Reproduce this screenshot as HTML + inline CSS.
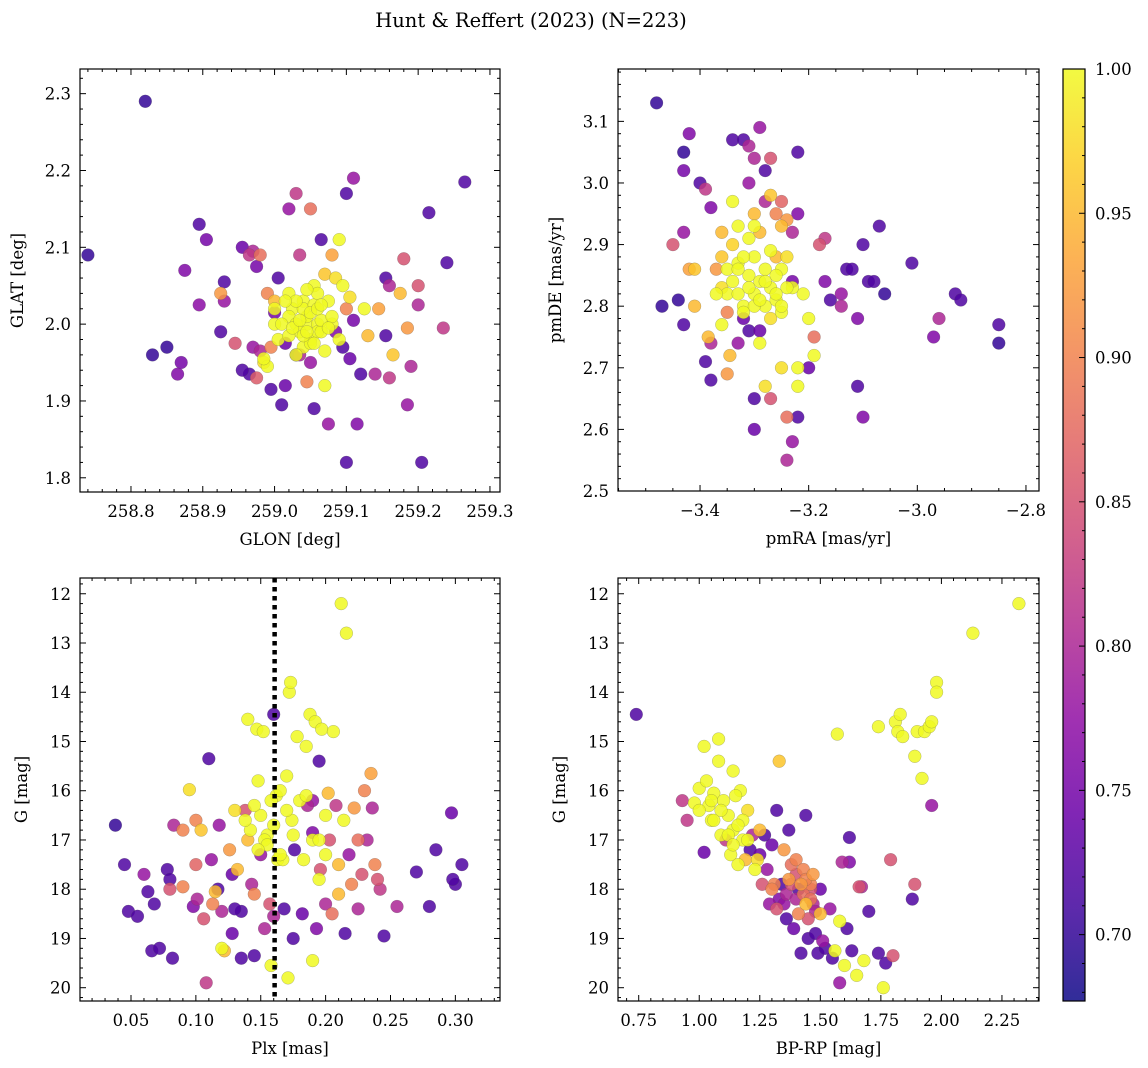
<!DOCTYPE html>
<html><head><meta charset="utf-8"><style>
html,body{margin:0;padding:0;background:#fff;}
svg{display:block;font-family:"DejaVu Serif","Liberation Serif",serif;}
</style></head><body>
<svg id="fig" width="1148" height="1068" viewBox="0 0 1148 1068" xmlns="http://www.w3.org/2000/svg">
<text x="531" y="27" font-size="19.5" text-anchor="middle">Hunt &amp; Reffert (2023) (N=223)</text>
</svg>
<script>
// ---------- DATA ----------
const p1glon=[258.74,258.82,258.83,258.85,258.87,258.865,258.875,258.895,258.905,258.895,258.925,258.93,258.93,258.925,258.945,258.955,258.965,258.97,258.975,258.98,258.965,258.955,258.975,258.98,258.985,258.99,258.995,258.99,259.0,259.005,258.995,259.0,259.005,259.01,259.015,259.02,259.02,259.025,259.03,259.035,259.04,259.045,259.05,259.05,259.055,259.06,259.06,259.035,259.04,259.045,259.05,259.055,259.065,259.07,259.08,259.085,259.09,259.095,259.1,259.105,259.075,259.08,259.085,259.065,259.07,259.075,259.1,259.11,259.11,259.115,259.1,259.095,259.105,259.125,259.13,259.14,259.145,259.155,259.16,259.16,259.165,259.175,259.18,259.185,259.19,259.185,259.155,259.2,259.2,259.205,259.215,259.24,259.235,259.265,259.12,259.03,259.045,259.015,258.97,259.0,259.02,259.03,259.035,259.04,259.055,259.06,259.065,259.045,259.03,259.05,259.02,259.07,259.08,259.09,259.01,259.025,259.04,259.05,259.06,259.035,259.045,259.055,259.065,259.015,259.03,259.075,259.0,258.985];
const p1glat=[2.09,2.29,1.96,1.97,1.95,1.935,2.07,2.13,2.11,2.025,2.04,2.055,2.03,1.99,1.975,2.1,2.09,2.095,2.075,2.09,1.935,1.94,1.93,1.965,1.95,1.945,1.915,2.04,2.03,2.06,1.97,2.0,1.98,1.895,1.92,2.15,2.04,2.02,2.17,2.09,2.03,2.0,2.15,1.98,2.05,2.0,1.99,1.96,1.97,2.01,1.95,1.89,2.11,2.065,2.09,2.06,2.11,2.05,2.02,2.035,2.03,2.0,1.99,1.99,1.92,1.87,2.17,2.19,2.005,1.87,1.82,1.97,1.955,2.02,1.985,1.935,2.02,2.06,2.05,1.93,1.96,2.04,2.085,1.995,1.945,1.895,1.985,2.05,2.025,1.82,2.145,2.08,1.995,2.185,1.935,1.96,1.925,1.975,1.97,2.015,2.01,2.0,1.99,2.02,2.025,2.04,2.005,2.045,2.03,1.975,1.985,1.965,2.01,1.98,2.0,1.995,1.985,2.015,2.02,2.005,1.99,1.975,2.025,2.03,1.96,1.995,2.02,1.955];
const p1prob=[.70,.70,.70,.70,.75,.76,.76,.72,.75,.77,.92,.72,.78,.72,.85,.74,.82,.80,.75,.88,.72,.72,.86,.80,.98,1,.72,.90,.95,.72,.90,1,1,.72,.74,.78,1,1,.82,.82,1,1,.88,1,1,1,1,.80,1,1,.78,.72,.72,.96,.93,.98,1,1,.90,.98,1,1,.76,1,1,.78,.72,.78,.75,.76,.72,.72,.74,1,.95,.80,.93,.72,.80,.82,.96,.95,.85,.92,.80,.78,.72,.85,.80,.72,.72,.72,.82,.72,.72,.72,.90,.74,.78,.75,1,1,1,1,1,1,1,1,1,1,1,1,1,1,1,1,1,1,1,1,1,1,1,1,1,1,1,1];

const p2pmra=[-3.48,-3.47,-3.43,-3.43,-3.42,-3.45,-3.43,-3.44,-3.43,-3.42,-3.41,-3.41,-3.40,-3.39,-3.38,-3.38,-3.385,-3.39,-3.38,-3.37,-3.36,-3.36,-3.35,-3.35,-3.36,-3.35,-3.345,-3.34,-3.34,-3.33,-3.33,-3.32,-3.31,-3.31,-3.30,-3.30,-3.30,-3.30,-3.30,-3.29,-3.28,-3.28,-3.27,-3.27,-3.26,-3.25,-3.25,-3.24,-3.23,-3.22,-3.22,-3.28,-3.27,-3.25,-3.24,-3.24,-3.23,-3.22,-3.22,-3.22,-3.20,-3.19,-3.19,-3.2,-3.21,-3.23,-3.23,-3.25,-3.26,-3.18,-3.17,-3.17,-3.16,-3.14,-3.13,-3.12,-3.11,-3.11,-3.10,-3.10,-3.09,-3.08,-3.07,-3.06,-3.01,-2.97,-2.96,-2.93,-2.92,-2.85,-2.85,-3.14,-3.32,-3.31,-3.29,-3.34,-3.33,-3.32,-3.31,-3.30,-3.30,-3.29,-3.28,-3.28,-3.27,-3.27,-3.26,-3.26,-3.25,-3.24,-3.24,-3.32,-3.34,-3.33,-3.31,-3.29,-3.3,-3.35,-3.36,-3.37,-3.29,-3.27,-3.25,-3.31,-3.29,-3.33,-3.28,-3.32,-3.26];
const p2pmde=[3.13,2.80,3.05,3.02,3.08,2.90,2.92,2.81,2.77,2.86,2.86,2.80,3.0,2.99,2.96,2.74,2.75,2.71,2.68,2.86,2.92,2.83,2.82,2.79,2.77,2.69,2.72,3.07,2.97,2.87,2.74,3.07,3.06,3.0,3.04,2.95,2.93,2.65,2.60,3.09,3.02,2.97,2.98,3.04,2.95,2.93,2.97,2.94,2.92,2.95,3.05,2.67,2.65,2.70,2.62,2.55,2.58,2.62,2.67,2.70,2.70,2.72,2.75,2.78,2.82,2.83,2.84,2.86,2.88,2.90,2.91,2.84,2.81,2.82,2.86,2.86,2.78,2.67,2.90,2.62,2.84,2.84,2.93,2.82,2.87,2.75,2.78,2.82,2.81,2.77,2.74,2.80,2.78,2.76,2.76,2.84,2.82,2.80,2.85,2.82,2.88,2.84,2.80,2.86,2.83,2.89,2.81,2.85,2.79,2.83,2.88,2.88,2.90,2.93,2.91,2.92,2.80,2.86,2.88,2.82,2.74,2.78,2.80,2.83,2.81,2.86,2.84,2.79,2.82];
const p2prob=[.70,.70,.70,.75,.76,.85,.78,.70,.72,.93,.96,.95,.72,.82,.76,.80,.95,.72,.72,.92,.95,.98,1,.90,1,.92,.95,.72,1,1,.78,.72,.80,.78,.80,.95,1,.72,.74,.78,.72,.80,.96,.85,.90,.95,.87,.92,.80,.76,.72,.98,.85,.98,.88,.80,.78,.72,1,1,.74,1,.88,1,1,1,.75,1,.95,.85,.82,.76,.72,.78,.72,.72,.76,.72,.72,.76,.72,.72,.72,.70,.72,.76,.80,.72,.72,.72,.70,.80,.74,.72,.74,1,1,1,1,1,1,1,1,1,1,1,1,1,1,1,.98,1,.97,1,1,.95,1,1,.96,1,1,.98,1,1,1,1,1,1,1];

const p3plx=[0.038,0.045,0.048,0.055,0.06,0.063,0.066,0.068,0.072,0.078,0.08,0.082,0.083,0.08,0.09,0.09,0.095,0.1,0.1,0.098,0.101,0.104,0.106,0.108,0.11,0.112,0.113,0.115,0.117,0.12,0.12,0.122,0.126,0.128,0.13,0.132,0.135,0.135,0.138,0.14,0.142,0.143,0.145,0.145,0.147,0.148,0.15,0.15,0.152,0.153,0.155,0.157,0.158,0.16,0.16,0.162,0.163,0.165,0.167,0.168,0.17,0.171,0.172,0.173,0.174,0.176,0.178,0.18,0.182,0.183,0.185,0.186,0.188,0.19,0.19,0.192,0.193,0.195,0.195,0.197,0.2,0.2,0.202,0.203,0.205,0.206,0.208,0.21,0.212,0.214,0.215,0.216,0.218,0.22,0.222,0.225,0.228,0.23,0.232,0.235,0.236,0.238,0.24,0.242,0.245,0.255,0.27,0.28,0.285,0.297,0.3,0.305,0.298,0.13,0.128,0.118,0.19,0.196,0.175,0.153,0.158,0.2,0.21,0.225,0.14,0.145,0.155,0.16,0.165,0.17,0.185,0.19,0.175,0.148,0.138,0.195];
const p3gmag=[16.7,17.5,18.45,18.55,17.7,18.05,19.25,18.3,19.2,17.6,17.8,19.4,16.7,18.0,16.8,17.95,15.98,16.6,17.5,18.35,18.2,16.8,18.6,19.9,15.35,17.4,18.3,18.05,18.0,18.45,19.2,19.25,17.2,18.9,16.4,17.6,18.45,19.4,16.4,14.55,16.8,17.9,18.1,19.35,14.75,15.8,16.5,17.3,14.8,18.8,16.9,18.3,19.55,14.45,18.55,16.1,17.4,16.0,17.4,18.4,15.7,19.8,14.0,13.8,16.6,17.2,14.9,16.2,18.5,17.4,15.1,16.3,14.45,16.85,19.45,14.6,18.8,15.4,17.8,14.75,17.3,18.3,16.05,17.0,18.5,14.8,16.3,17.5,12.2,16.6,18.9,12.8,17.3,17.9,16.35,18.4,17.7,16.0,17.0,15.65,16.35,17.5,17.8,18.0,18.95,18.35,17.65,18.35,17.2,16.45,17.9,17.5,17.8,18.4,17.7,16.7,16.2,17.6,19.0,17.0,16.2,16.5,18.1,17.0,17.0,16.3,17.1,16.7,17.3,16.4,16.1,17.0,16.9,17.2,16.6,17.0];
const p3prob=[.70,.72,.72,.72,.78,.72,.72,.72,.72,.72,.72,.72,.80,.85,.90,.90,.98,.90,.87,.76,.80,.96,.85,.82,.72,.78,.90,.95,.72,.80,1,.95,.92,.74,.98,.95,.72,.72,.85,1,1,.80,.90,.72,1,1,1,.78,1,.80,1,.85,1,.72,.80,1,1,1,1,.72,1,1,1,1,1,.72,1,1,.74,1,1,.80,1,.76,1,1,.76,.72,1,1,1,.80,.95,.85,.88,1,.82,.95,1,1,.72,1,.78,.90,.92,.80,.85,.90,.80,.93,.80,.90,.85,.82,.72,.80,.72,.72,.72,.74,.72,.72,.72,.72,.74,.78,.78,.85,.72,1,1,1,.95,.88,.95,1,1,1,1,1,1,1,1,1,1,1];
const plxRef=[0.1607];

const p4bprp=[0.74,0.93,0.95,0.98,1.0,1.02,1.02,1.04,1.05,1.06,1.08,1.08,1.09,1.1,1.11,1.12,1.13,1.14,1.14,1.16,1.17,1.18,1.19,1.2,1.21,1.22,1.23,1.25,1.26,1.27,1.28,1.29,1.3,1.31,1.32,1.32,1.33,1.34,1.35,1.36,1.36,1.37,1.38,1.39,1.4,1.41,1.42,1.42,1.43,1.44,1.45,1.45,1.46,1.47,1.48,1.49,1.5,1.5,1.51,1.52,1.54,1.55,1.56,1.57,1.58,1.58,1.59,1.6,1.61,1.62,1.62,1.63,1.65,1.66,1.67,1.68,1.7,1.74,1.74,1.76,1.77,1.79,1.8,1.81,1.82,1.83,1.84,1.88,1.89,1.89,1.9,1.92,1.93,1.95,1.96,1.96,1.98,1.98,2.13,2.32,1.38,1.4,1.43,1.44,1.46,1.47,1.48,1.41,1.35,1.3,1.33,1.12,1.06,1.15,1.18,1.25,1.0,1.03,1.09,1.16,1.2,1.24,1.14,1.05,1.44,1.46,1.4,1.37];
const p4gmag=[14.45,16.2,16.6,16.25,15.95,15.1,17.25,16.3,16.6,16.05,14.95,15.4,16.9,16.2,17.0,16.5,17.3,15.6,16.8,17.5,16.0,17.0,17.4,16.4,17.2,16.9,17.6,17.3,17.9,16.9,17.6,18.3,17.1,17.9,16.4,18.4,15.4,17.9,17.2,18.1,18.6,16.8,17.9,18.8,17.4,18.5,19.3,17.9,18.1,16.5,18.6,19.0,17.9,18.3,18.9,19.3,18.0,18.5,19.05,19.2,18.4,19.4,19.25,14.85,18.65,19.9,17.45,19.55,18.8,16.95,17.45,19.25,19.75,17.95,17.95,19.45,18.45,14.7,19.3,20.0,19.5,17.4,19.35,14.6,14.8,14.45,14.9,18.2,15.3,17.9,14.8,15.75,14.8,14.7,14.6,16.3,13.8,14.0,12.8,12.2,17.5,17.7,17.6,18.3,18.2,17.7,18.45,18.0,18.3,18.0,18.2,16.9,16.6,16.1,16.6,16.8,16.4,15.8,16.4,16.7,17.0,17.4,17.1,16.2,17.8,18.0,18.2,17.8];
const p4prob=[.72,.82,.82,1,1,1,.74,1,1,1,1,1,1,1,.82,1,1,1,1,1,1,1,.95,.98,.72,.80,1,.74,.85,.72,.78,.78,.74,.90,.72,.85,.96,.72,.92,.80,.72,.72,.85,.74,.90,.90,.72,.92,.88,.72,.85,.72,.90,.80,.72,.72,.74,.95,.78,.72,.78,.72,1,1,1,.78,.80,1,.72,.72,.76,.72,1,.85,.80,1,.72,1,.72,1,.72,.85,.85,1,1,1,1,.72,1,.85,1,1,1,1,1,.78,1,1,1,1,.88,.85,.90,.95,.88,.92,.80,.72,.78,.90,.76,1,1,1,1,.95,1,1,1,1,1,.98,1,1,.90,.85,.80,.92];

const cbTicks=[0.70,0.75,0.80,0.85,0.90,0.95,1.00];
const vmin=0.677, vmax=1.0;

// ---------- COLORMAP (plasma) ----------
const plasma=[[13,8,135],[65,4,157],[106,0,168],[143,13,164],[177,42,144],[204,71,120],[225,100,98],[242,132,75],[252,166,54],[252,206,37],[240,249,33]];
function cmap(v){if(typeof v!=='number'||isNaN(v))v=vmax;let t=Math.max(0,Math.min(1,(v-vmin)/(vmax-vmin)))*10;let i=Math.min(9,Math.floor(t)),f=t-i;const a=plasma[i],b=plasma[i+1];return `rgb(${Math.round(a[0]+(b[0]-a[0])*f)},${Math.round(a[1]+(b[1]-a[1])*f)},${Math.round(a[2]+(b[2]-a[2])*f)})`;}

const NS='http://www.w3.org/2000/svg';
const svg=document.getElementById('fig');
function mk(tag,attrs,parent){const e=document.createElementNS(NS,tag);for(const k in attrs)e.setAttribute(k,attrs[k]);(parent||svg).appendChild(e);return e;}
function fmt(v,d){let s=v.toFixed(d);if(v<0)s='\u2212'+(-v).toFixed(d);return s;}

function panel(cfg){
  const g=mk('g',{});
  
  
  const L=cfg.box[0],T=cfg.box[1],R=cfg.box[2],B=cfg.box[3];
  const sx=v=>L+(v-cfg.x0)/(cfg.x1-cfg.x0)*(R-L);
  const sy=cfg.invert? (v=>T+(v-cfg.y0)/(cfg.y1-cfg.y0)*(B-T)) : (v=>B-(v-cfg.y0)/(cfg.y1-cfg.y0)*(B-T));
  const n=Math.min(cfg.xs.length,cfg.ys.length,cfg.cs.length);
  const idx=[];for(let i=0;i<n;i++)idx.push(i);
  idx.sort((a,b)=>cfg.cs[a]-cfg.cs[b]);
  const pg=mk('g',{},g);
  
  
  for(const i of idx){
    const c=mk('circle',{cx:sx(cfg.xs[i]).toFixed(1),cy:sy(cfg.ys[i]).toFixed(1),r:6.4,fill:cmap(cfg.cs[i]),'fill-opacity':0.85,stroke:'#555','stroke-width':0.35,'stroke-opacity':0.6},pg);
    
    
  }
  if(cfg.vline){
    const ln=mk('line',{x1:sx(cfg.vline),x2:sx(cfg.vline),y1:T,y2:B,stroke:'#000','stroke-width':4.5,'stroke-dasharray':'4.5,4.5'},g);
    
    
  }
  const fr=mk('rect',{x:L,y:T,width:R-L,height:B-T,fill:'none',stroke:'#000','stroke-width':1.2},g);
  
  
  const tk=mk('g',{stroke:'#000','stroke-width':1},g);
  const eps=1e-9;
  for(let v=Math.ceil(cfg.x0/cfg.xmin-eps)*cfg.xmin; v<=cfg.x1+eps; v+=cfg.xmin){
    const major=Math.abs(v/cfg.xmaj-Math.round(v/cfg.xmaj))<1e-4;const len=major?6:3;const x=sx(v);
    mk('line',{x1:x,x2:x,y1:B,y2:B-len},tk);mk('line',{x1:x,x2:x,y1:T,y2:T+len},tk);
    if(major){const t=mk('text',{x:x,y:B+25,'font-size':16.5,'text-anchor':'middle',stroke:'none',fill:'#000'},g);t.textContent=fmt(v,cfg.xd);
      
      }
  }
  for(let v=Math.ceil(cfg.y0/cfg.ymin-eps)*cfg.ymin; v<=cfg.y1+eps; v+=cfg.ymin){
    const major=Math.abs(v/cfg.ymaj-Math.round(v/cfg.ymaj))<1e-4;const len=major?6:3;const y=sy(v);
    mk('line',{x1:L,x2:L+len,y1:y,y2:y},tk);mk('line',{x1:R,x2:R-len,y1:y,y2:y},tk);
    if(major){const t=mk('text',{x:L-9,y:y+6,'font-size':16.5,'text-anchor':'end',stroke:'none',fill:'#000'},g);t.textContent=fmt(v,cfg.yd);
      
      }
  }
  const xl=mk('text',{x:(L+R)/2,y:B+53,'font-size':16.5,'text-anchor':'middle'},g);xl.textContent=cfg.xlabel;
  
  
  const yx=cfg.ylx,yy=(T+B)/2;
  const yl=mk('text',{x:yx,y:yy,'font-size':16.5,'text-anchor':'middle',transform:`rotate(-90 ${yx} ${yy})`},g);yl.textContent=cfg.ylabel;
  
  
}

panel({name:'glon-glat-panel',box:[80,69,500,492],x0:258.729,x1:259.314,y0:1.7815,y1:2.3321,xs:p1glon,ys:p1glat,cs:p1prob,xmaj:0.1,xmin:0.02,ymaj:0.1,ymin:0.02,xd:1,yd:1,xlabel:'GLON [deg]',ylabel:'GLAT [deg]',ylx:23});
panel({name:'proper-motion-panel',box:[618,69,1039,491],x0:-3.551,x1:-2.776,y0:2.5,y1:3.185,xs:p2pmra,ys:p2pmde,cs:p2prob,xmaj:0.2,xmin:0.05,ymaj:0.1,ymin:0.02,xd:1,yd:1,xlabel:'pmRA [mas/yr]',ylabel:'pmDE [mas/yr]',ylx:561});
panel({name:'parallax-magnitude-panel',box:[80,578,500,1001],x0:0.0107,x1:0.3344,y0:11.68,y1:20.27,invert:true,xs:p3plx,ys:p3gmag,cs:p3prob,xmaj:0.05,xmin:0.01,ymaj:1,ymin:0.2,xd:2,yd:0,xlabel:'Plx [mas]',ylabel:'G [mag]',ylx:27,vline:plxRef[0]});
panel({name:'color-magnitude-panel',box:[618,578,1039,1001],x0:0.6645,x1:2.403,y0:11.68,y1:20.27,invert:true,xs:p4bprp,ys:p4gmag,cs:p4prob,xmaj:0.25,xmin:0.05,ymaj:1,ymin:0.2,xd:2,yd:0,xlabel:'BP-RP [mag]',ylabel:'G [mag]',ylx:565});

// ---------- COLORBAR ----------
(function(){
  const g=mk('g',{});
  
  
  const L=1063,R=1085,T=69,B=1001;
  const cy=v=>B-(v-vmin)/(vmax-vmin)*(B-T);
  const defs=mk('defs',{},g);
  const lg=mk('linearGradient',{id:'cbg',x1:0,y1:1,x2:0,y2:0},defs);
  for(let i=0;i<=10;i++){mk('stop',{offset:i/10,'stop-color':cmap(vmin+(vmax-vmin)*i/10)},lg);}
  mk('rect',{x:L,y:T,width:R-L,height:B-T,fill:'url(#cbg)','fill-opacity':0.85},g);
  mk('rect',{x:L,y:T,width:R-L,height:B-T,fill:'none',stroke:'#000','stroke-width':1.2},g);
  for(let v=0.68;v<=1.0001;v+=0.01){
    const major=Math.abs(v*20-Math.round(v*20))<1e-4;const y=cy(v);
    mk('line',{x1:R,x2:R-(major?6:3),y1:y,y2:y,stroke:'#000','stroke-width':1},g);
  }
  for(const v of cbTicks){
    const t=mk('text',{x:R+10,y:cy(v)+6,'font-size':16.5},g);t.textContent=v.toFixed(2);
    
    
  }
})();
</script>
</body></html>
